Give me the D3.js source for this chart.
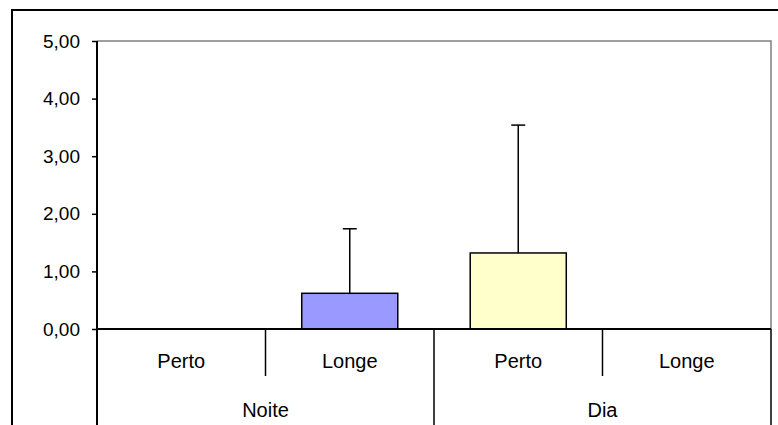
<!DOCTYPE html>
<html><head><meta charset="utf-8">
<script src="https://cdn.jsdelivr.net/npm/d3@7"></script>
<style>
html,body{margin:0;padding:0;background:#fff;overflow:hidden}
text{font-family:"Liberation Sans",Arial,sans-serif}
</style></head>
<body>
<svg id="c" width="778" height="425"></svg>
<script>
const groups = ["Noite", "Dia"];
const categories = ["Perto", "Longe", "Perto", "Longe"];
const barGroups = ["Noite", "Noite", "Dia", "Dia"];
const values = [0, 0.62, 1.32, 0];
const errors = [0, 1.12, 2.22, 0];
const barColors = ["#9999FF", "#9999FF", "#FFFFCC", "#FFFFCC"];
const yTicks = [0, 1, 2, 3, 4, 5];

const svg = d3.select("#c");
const W = 778, H = 425;
const L = 97, R = 771, T = 41, B = 329;
const fontSize = 20, tickFont = 19;

// outer frame
svg.append("rect").attr("x", 12).attr("y", 10).attr("width", 800).attr("height", 500)
  .attr("fill", "none").attr("stroke", "#000").attr("stroke-width", 2);

const x = d3.scaleBand().domain(d3.range(categories.length)).range([L, R]).paddingInner(0).paddingOuter(0);
const y = d3.scaleLinear().domain([0, 5]).range([B, T]);
const bw = x.bandwidth() * 0.57;

// plot area border (gray top/right)
svg.append("path").attr("d", `M${L},${T}H${R}V${B}`).attr("fill", "none")
  .attr("stroke", "#808080").attr("stroke-width", 1.5);

// bars
const bars = svg.append("g");
categories.forEach((c, i) => {
  const cx = x(i) + x.bandwidth() / 2;
  if (values[i] > 0) {
    bars.append("rect").attr("x", cx - bw / 2).attr("y", y(values[i]))
      .attr("width", bw).attr("height", y(0) - y(values[i]))
      .attr("fill", barColors[i]).attr("stroke", "#000").attr("stroke-width", 1.5);
  }
  const top = y(values[i] + errors[i]);
  bars.append("line").attr("x1", cx).attr("x2", cx).attr("y1", y(values[i])).attr("y2", top)
    .attr("stroke", "#000").attr("stroke-width", 1.5);
  bars.append("line").attr("x1", cx - 7).attr("x2", cx + 7).attr("y1", top).attr("y2", top)
    .attr("stroke", values[i] > 0 ? "#000" : "#555").attr("stroke-width", 1.5);
});

// y axis
const yAxis = d3.axisLeft(y).tickValues(yTicks).tickSize(5).tickPadding(12)
  .tickFormat(d => d3.format(".2f")(d).replace(".", ","));
const ga = svg.append("g").attr("transform", `translate(${L},0)`).call(yAxis);
ga.select(".domain").remove();
ga.selectAll(".tick line").attr("stroke", "#000").attr("stroke-width", 1.5);
ga.selectAll(".tick text").attr("font-size", tickFont).attr("fill", "#000")
  .attr("font-family", "Liberation Sans, Arial, sans-serif");

// left axis line extends to bottom
svg.append("line").attr("x1", L).attr("x2", L).attr("y1", T).attr("y2", H + 5)
  .attr("stroke", "#000").attr("stroke-width", 2);
// right separator below axis
svg.append("line").attr("x1", R).attr("x2", R).attr("y1", B).attr("y2", H + 5)
  .attr("stroke", "#000").attr("stroke-width", 1.5);
// zero axis
svg.append("line").attr("x1", L).attr("x2", R).attr("y1", y(0)).attr("y2", y(0))
  .attr("stroke", "#000").attr("stroke-width", 2);

// category separators and labels
const gx = svg.append("g");
categories.forEach((c, i) => {
  if (i > 0) {
    const isGroupBoundary = barGroups[i] !== barGroups[i - 1];
    gx.append("line").attr("x1", x(i)).attr("x2", x(i)).attr("y1", B)
      .attr("y2", isGroupBoundary ? H + 5 : 376)
      .attr("stroke", "#000").attr("stroke-width", 1.5);
  }
  gx.append("text").attr("x", x(i) + x.bandwidth() / 2).attr("y", 361)
    .attr("text-anchor", "middle").attr("dominant-baseline", "central")
    .attr("font-size", fontSize).text(c);
});
groups.forEach(g => {
  const idx = barGroups.map((b, i) => b === g ? i : -1).filter(i => i >= 0);
  const x0 = x(idx[0]), x1 = x(idx[idx.length - 1]) + x.bandwidth();
  gx.append("text").attr("x", (x0 + x1) / 2).attr("y", 410)
    .attr("text-anchor", "middle").attr("dominant-baseline", "central")
    .attr("font-size", fontSize).text(g);
});
</script>
</body></html>
